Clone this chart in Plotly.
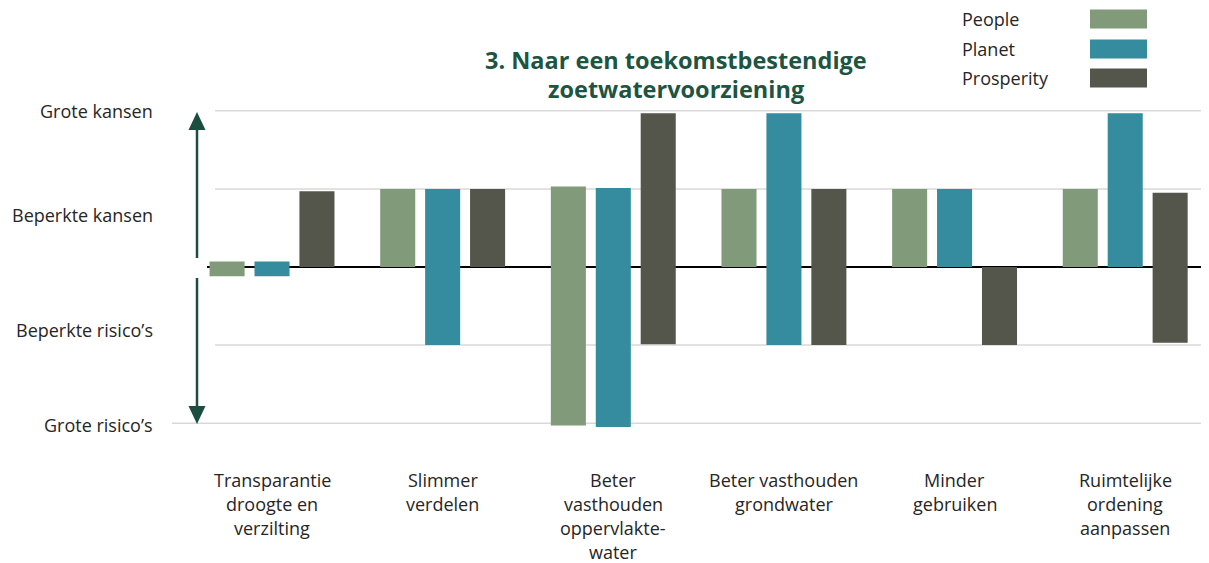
import plotly.graph_objects as go

# ---------------- data ----------------
categories = [
    "Transparantie<br>droogte en<br>verzilting",
    "Slimmer<br>verdelen",
    "Beter<br>vasthouden<br>oppervlakte-<br>water",
    "Beter vasthouden<br>grondwater",
    "Minder<br>gebruiken",
    "Ruimtelijke<br>ordening<br>aanpassen",
]
series_names = ["People", "Planet", "Prosperity"]
people_low = [-0.12, 0, -2.03, 0, 0, 0]
people_high = [0.07, 1, 1.03, 1, 1, 1]
planet_low = [-0.12, -1, -2.05, -1, 0, 0]
planet_high = [0.07, 1, 1.01, 1.97, 1, 1.97]
prosperity_low = [0, 0, -0.99, -1, -1, -0.97]
prosperity_high = [0.97, 1, 1.97, 1, 0, 0.95]
y_labels = ["Grote kansen", "Beperkte kansen", "Beperkte risico\u2019s", "Grote risico\u2019s"]
y_label_pos = [2, 0.67, -0.81, -2.02]
grid_values = [2, 1, -1, -2]
title_lines = ["3. Naar een toekomstbestendige", "zoetwatervoorziening"]

colors = ["#809a7a", "#358c9e", "#54564c"]
FONT = "Open Sans"
TEXT = "#262626"

# page offset (body margin of the html page)
OFF = 8
W, H = 1209 - OFF, 563 - OFF
ML, MR, MT, MB = 207, 7, 103, 132   # in screen pixels (reference coordinates)
L, T = ML - OFF, MT - OFF
B = 563 - MB                         # screen y of plot bottom
R = 1209 - MR
PW, PH = R - ML, B - MT
YR = [-2.1, 2.1]
XR = [-0.381, 5.45]


def px(xs_):
    return (xs_ - ML) / PW


def py(ys_):
    return (B - ys_) / PH


xs = list(range(len(categories)))
fig = go.Figure()
for name, lo, hi, c in [
    ("People", people_low, people_high, colors[0]),
    ("Planet", planet_low, planet_high, colors[1]),
    ("Prosperity", prosperity_low, prosperity_high, colors[2]),
]:
    fig.add_trace(go.Bar(
        x=xs, y=[h - l for l, h in zip(lo, hi)], base=lo, name=name,
        marker=dict(color=c, line=dict(width=0)), showlegend=False,
    ))

shapes = []
for g in grid_values:
    x0 = px(172) if g == -2 else px(215)
    shapes.append(dict(type="line", xref="paper", yref="y", x0=x0, x1=px(1205),
                       y0=g, y1=g, line=dict(color="#d9d9d9", width=1.5), layer="below"))
shapes.append(dict(type="line", xref="paper", yref="y", x0=0, x1=px(1205),
                   y0=0, y1=0, line=dict(color="#000000", width=2), layer="below"))

annotations = []
# category labels, one annotation per line
for i, cat in enumerate(categories):
    for j, line in enumerate(cat.split("<br>")):
        annotations.append(dict(x=i, y=py(480 + 24 * j), xref="x", yref="paper",
                                text=line, showarrow=False, xanchor="center", yanchor="middle",
                                font=dict(family=FONT, size=18, color=TEXT)))
# y labels
for lab, pos in zip(y_labels, y_label_pos):
    annotations.append(dict(x=px(155), y=pos, xref="paper", yref="y", text=lab,
                            showarrow=False, xanchor="right", yanchor="middle",
                            font=dict(family=FONT, size=18, color=TEXT)))
# title
for k, tl in enumerate(title_lines):
    annotations.append(dict(x=px(676), y=py(60 + 29 * k), xref="paper", yref="paper",
                            text="<b>" + tl + "</b>", showarrow=False, xanchor="center",
                            yanchor="middle", font=dict(family=FONT, size=23.5, color="#1d5442")))
# legend
leg_y = [19, 49, 78]
for name, c, yy in zip(series_names, colors, leg_y):
    annotations.append(dict(x=px(960), y=py(yy), xref="paper", yref="paper", text=name,
                            showarrow=False, xanchor="left", yanchor="middle",
                            font=dict(family=FONT, size=18, color=TEXT)))
    shapes.append(dict(type="rect", xref="paper", yref="paper", x0=px(1090), x1=px(1147),
                       y0=py(yy - 9.5), y1=py(yy + 9.5), fillcolor=c, line=dict(width=0)))
# double arrow (split around the zero line)
arrow_col = "#1b4e40"
AX = 197
shapes.append(dict(type="line", xref="paper", yref="paper", x0=px(AX), x1=px(AX),
                   y0=py(126), y1=py(258), line=dict(color=arrow_col, width=2.5)))
shapes.append(dict(type="line", xref="paper", yref="paper", x0=px(AX), x1=px(AX),
                   y0=py(278), y1=py(410), line=dict(color=arrow_col, width=2.5)))
for tip, base in [(112, 130), (424, 406)]:
    path = "M {} {} L {} {} L {} {} Z".format(px(AX), py(tip), px(AX - 8.5), py(base),
                                              px(AX + 8.5), py(base))
    shapes.append(dict(type="path", xref="paper", yref="paper", path=path,
                       fillcolor=arrow_col, line=dict(width=0)))

fig.update_layout(
    width=W, height=H,
    margin=dict(l=L, r=MR, t=T, b=MB, pad=0),
    paper_bgcolor="white", plot_bgcolor="white",
    barmode="group", bargap=0.21, bargroupgap=0.22,
    xaxis=dict(range=XR, showgrid=False, zeroline=False, showticklabels=False, showline=False,
               fixedrange=True),
    yaxis=dict(range=YR, showgrid=False, zeroline=False, showticklabels=False, showline=False,
               fixedrange=True),
    shapes=shapes, annotations=annotations, showlegend=False,
)
fig.write_html("out.html")
